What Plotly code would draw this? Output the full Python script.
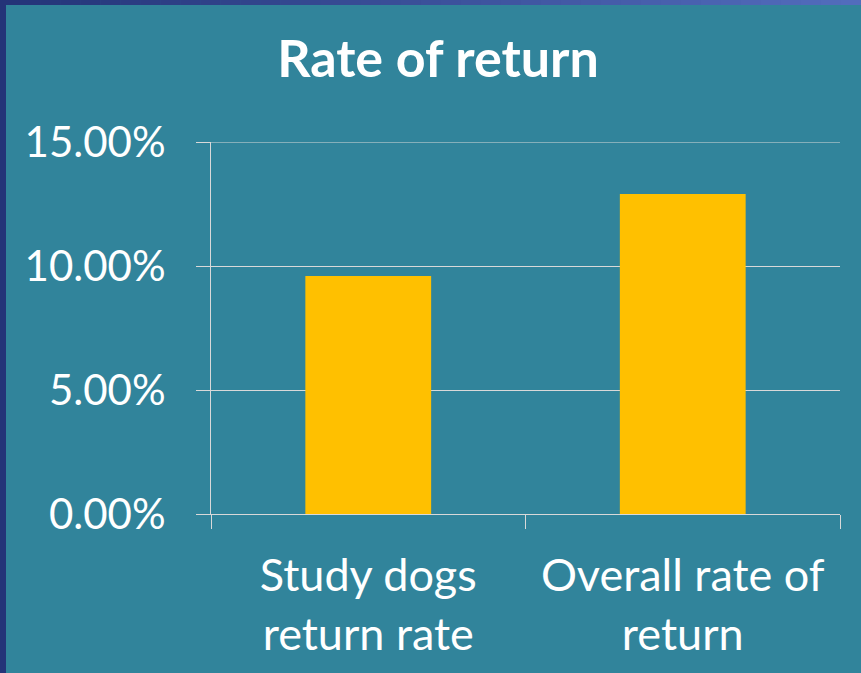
import plotly.graph_objects as go

categories = ["Study dogs<br>return rate", "Overall rate of<br>return"]
values = [0.096, 0.129]
tick_vals = [0.0, 0.05, 0.10, 0.15]
tick_text = ["0.00%", "5.00%", "10.00%", "15.00%"]
title_text = "Rate of return"

W, H = 861, 673
ML, MR, MT, MB = 211, 21, 142, 159
PW, PH = W - ML - MR, H - MT - MB

BG = "#31849b"
BAR = "#ffc000"
GRID = "#d9d9d9"
FONT = "Lato"

fig = go.Figure(go.Bar(x=categories, y=values, marker=dict(color=BAR, line=dict(width=0)), width=0.4))

# decorative slide borders (left solid, top gradient)
def px_x(p):
    return (p - ML) / PW

def px_y(p):
    return (H - MB - p) / PH

shapes = [dict(type="rect", xref="paper", yref="paper", x0=px_x(0), x1=px_x(6), y0=px_y(H), y1=px_y(0),
               fillcolor="#243478", line=dict(width=0), layer="above")]
c0 = (0x24, 0x34, 0x78)
c1 = (0x52, 0x6c, 0xbc)
N = 43
for i in range(N):
    t = i / (N - 1)
    c = tuple(int(round(a + (b - a) * t)) for a, b in zip(c0, c1))
    shapes.append(dict(type="rect", xref="paper", yref="paper",
                       x0=px_x(W * i / N), x1=px_x(W * (i + 1) / N + 0.5), y0=px_y(5), y1=px_y(0),
                       fillcolor="rgb(%d,%d,%d)" % c, line=dict(width=0), layer="above"))
# top gridline at the range edge (plotly skips gridlines at the edge)
shapes.append(dict(type="line", xref="paper", yref="y", x0=0, x1=1, y0=tick_vals[-1], y1=tick_vals[-1],
                   line=dict(color=GRID, width=1), layer="below"))

fig.update_layout(
    width=W, height=H,
    margin=dict(l=ML, r=MR, t=MT, b=MB),
    paper_bgcolor=BG, plot_bgcolor=BG,
    showlegend=False,
    title=dict(text="<b>" + title_text + "</b>", x=438 / W, xanchor="center", y=1 - 59 / H, yanchor="middle",
               font=dict(family=FONT, size=52, color="white")),
    font=dict(family=FONT, color="white"),
    shapes=shapes,
    bargap=0.6,
)
fig.update_xaxes(
    showline=True, linecolor=GRID, linewidth=1,
    ticks="outside", tickson="boundaries", ticklen=14, tickcolor=GRID, tickwidth=1,
    showgrid=False, tickfont=dict(family=FONT, size=45, color="white"),
    ticklabelstandoff=22,
)
fig.update_yaxes(
    range=[0, 0.15], tickvals=tick_vals, ticktext=tick_text,
    showline=True, linecolor=GRID, linewidth=1,
    ticks="outside", ticklen=14, tickcolor=GRID, tickwidth=1,
    showgrid=True, gridcolor=GRID, gridwidth=1, zeroline=False,
    tickfont=dict(family=FONT, size=42, color="white"),
    ticklabelstandoff=22,
)

fig.write_html("out.html", config={"displayModeBar": False},
               post_script="document.body.style.margin='0';document.body.style.overflow='hidden';")
